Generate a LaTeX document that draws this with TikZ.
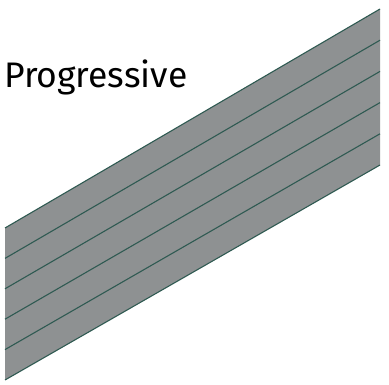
\documentclass[tikz,border=0pt]{standalone}
\usepackage{fontspec}
\setmainfont{Fira Sans}
\usepackage{tikz}
\definecolor{slab}{HTML}{8E9192}
\definecolor{seam}{HTML}{2F5A52}

\begin{document}
\begin{tikzpicture}[x=1pt,y=-1pt]
    \useasboundingbox (0,0) rectangle (389,385);
    \fill[slab] (5,228) -- (380,9) -- (380,165) -- (5,380) -- cycle;

    % seams between the layers
    \foreach \k in {0,...,5}
        \draw[seam,line width=1.1pt] (5,{228+30.4*\k}) -- (380,{9+31.2*\k});

    \node[anchor=base west,inner sep=0pt,font=\fontsize{35.5}{40}\selectfont] (title) at (4,88) {Progressive};
\end{tikzpicture}
\end{document}
